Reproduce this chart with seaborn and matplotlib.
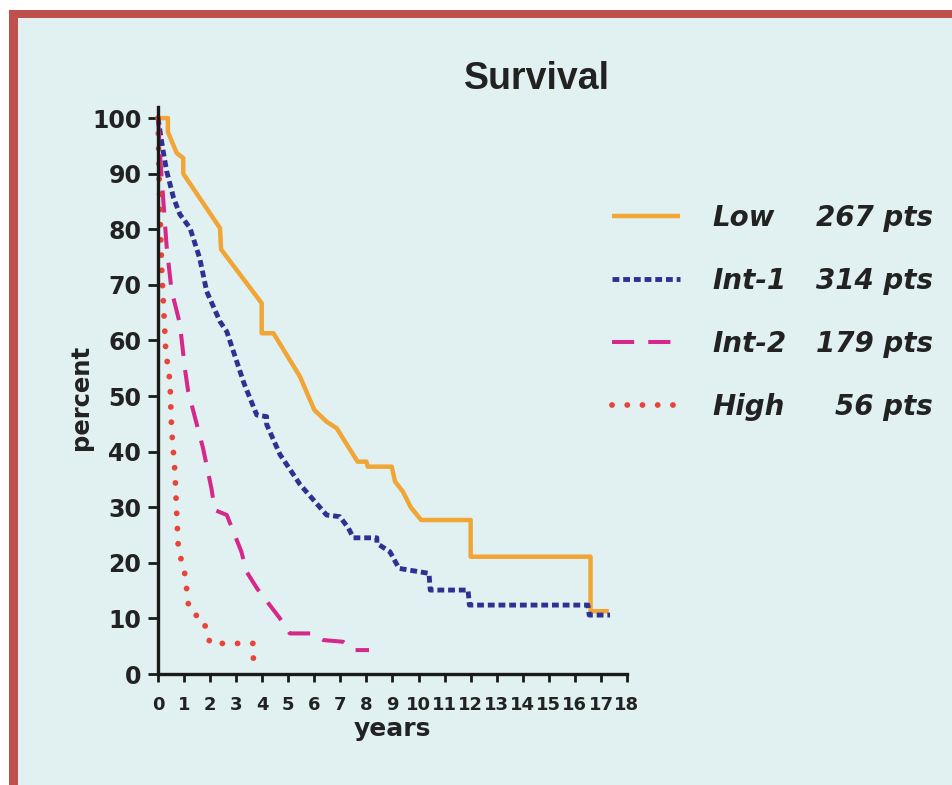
import matplotlib
matplotlib.use("Agg")
import matplotlib.pyplot as plt
from matplotlib.patches import Rectangle
import seaborn as sns
import pandas as pd

# ---------------- data ----------------
groups = ["Low", "Int-1", "Int-2", "High"]
counts = ["267 pts", "314 pts", "179 pts", "56 pts"]

low_years = [0, 0.38, 0.38, 0.72, 0.97, 0.97, 2.38, 2.42, 3.98, 3.98, 4.43, 5.45, 5.75,
             6.0, 6.47, 6.86, 7.66, 8.0, 8.05, 8.97, 9.1, 9.4, 9.7, 10.1, 12.0, 12.0,
             16.6, 16.6, 17.3]
low_pct = [100, 100, 97.5, 93.7, 92.8, 90, 80.2, 76.4, 66.7, 61.3, 61.3, 53.5, 50.2,
           47.5, 45.4, 44.2, 38.2, 38.2, 37.3, 37.3, 34.6, 32.8, 30, 27.7, 27.7, 21.1,
           21.1, 11.3, 11.3]

int1_years = [0, 0.2, 0.33, 0.6, 0.84, 1.23, 1.6, 1.87, 2.38, 2.64, 3.3, 3.79, 4.17, 4.17,
              4.68, 5.45, 6.47, 6.98, 7.3, 7.5, 8.4, 8.4, 8.9, 9.25, 10.4, 10.45, 11.9,
              11.95, 16.5, 16.55, 17.35]
int1_pct = [100, 94, 90.5, 85.6, 82.7, 80.2, 74.8, 68.8, 63.4, 61.6, 52.3, 46.6, 46.3, 44.9,
            39.5, 34.1, 28.6, 28.3, 26.3, 24.5, 24.5, 23.5, 22, 19, 18.1, 15.1, 15.1,
            12.4, 12.4, 10.6, 10.6]

int2_years = [0, 0.1, 0.33, 0.52, 0.84, 1.03, 1.16, 1.73, 2.05, 2.18, 2.64, 3.2, 3.4, 3.8,
              4.68, 5.06, 5.95, 6.35, 7.1, 7.5, 8.1]
int2_pct = [100, 92, 77, 69, 63, 55, 50.8, 40.6, 33.4, 29.5, 28.6, 22, 18.4, 15.4,
            10, 7.3, 7.3, 6.1, 5.8, 4.3, 4.3]

high_years = [0, 0.05, 0.15, 0.3, 0.46, 0.52, 0.65, 0.72, 0.78, 0.91, 1.04, 1.16, 1.3,
              1.73, 1.87, 2.0, 3.66, 3.66]
high_pct = [100, 88, 72, 58, 52.6, 44.2, 36.4, 28.6, 22.6, 20.2, 17.8, 12.7, 10.9,
            10, 7.6, 5.5, 5.5, 2.5]

x_ticks = list(range(0, 19))
y_ticks = list(range(0, 101, 10))
title = "Survival"
x_label = "years"
y_label = "percent"

# ---------------- style ----------------
sns.set_style("ticks")
plt.rcParams["font.family"] = ["DejaVu Sans"]

W, H = 953, 785
fig = plt.figure(figsize=(W / 100, H / 100), dpi=100)
fig.patch.set_facecolor("white")
fig.patches.append(Rectangle((9 / W, 0), 1, 1 - 10 / H, transform=fig.transFigure,
                             facecolor="#c0504d", edgecolor="none", zorder=-10))
fig.patches.append(Rectangle((18 / W, 0), 1, 1 - 18 / H, transform=fig.transFigure,
                             facecolor="#e1f1f1", edgecolor="none", zorder=-9))

ax = fig.add_axes([158 / W, (H - 674) / H, 469 / W, 567 / H])
ax.set_facecolor("none")

series = [
    (low_years, low_pct, "#f0a535", "-", 3.2, "butt"),
    (int1_years, int1_pct, "#2e3192", (0, (1.4, 0.8)), 3.5, "butt"),
    (int2_years, int2_pct, "#d6278a", (0, (5.5, 3.5)), 2.9, "butt"),
    (high_years, high_pct, "#e8443a", (0, (0.01, 2.6)), 4.2, "round"),
]
handles = []
for (xs, ys, col, ls, lw, cap), name in zip(series, groups):
    df = pd.DataFrame({"years": xs, "percent": ys})
    sns.lineplot(data=df, x="years", y="percent", ax=ax, color=col, lw=lw,
                 estimator=None, sort=False, label=name)
    ln = ax.lines[-1]
    ln.set_linestyle(ls)
    ln.set_dash_capstyle(cap)
    ln.set_solid_capstyle("butt")
    ln.set_clip_on(False)
    handles.append(ln)

ax.set_xlim(0, 18)
ax.set_ylim(0, 102)
ax.set_xticks(x_ticks)
ax.set_xticklabels([str(v) for v in x_ticks], fontsize=13, fontweight="bold", color="#222222")
ax.set_yticks(y_ticks)
ax.set_yticklabels([str(v) for v in y_ticks], fontsize=17, fontweight="bold", color="#222222")
ax.tick_params(axis="x", length=6, width=2, pad=10, color="#1a1a1a")
ax.tick_params(axis="y", length=7, width=2, pad=5, color="#1a1a1a")
for s in ["top", "right"]:
    ax.spines[s].set_visible(False)
for s in ["left", "bottom"]:
    ax.spines[s].set_linewidth(2.4)
    ax.spines[s].set_color("#1a1a1a")

ax.set_xlabel(x_label, fontsize=18, fontweight="bold", color="#222222", labelpad=2)
ax.set_ylabel(y_label, fontsize=17.5, fontweight="bold", color="#222222")
ax.yaxis.set_label_coords(-0.139, 0.4885)

fig.text(537 / W, 1 - 79 / H, title, ha="center", va="center",
         fontsize=27, fontweight="bold", family="Liberation Sans", color="#222222")

leg_font = dict(family="DejaVu Sans", weight="bold", style="oblique", size=20)
leg = ax.legend(handles, groups, loc="upper left",
                bbox_to_anchor=(612 / W, 1 - 204 / H), bbox_transform=fig.transFigure,
                frameon=False, borderpad=0, borderaxespad=0, handlelength=2.45,
                handletextpad=1.15, labelspacing=1.26, prop=leg_font)
for t in leg.get_texts():
    t.set_color("#222222")

fig.canvas.draw()
for t, cnt in zip(leg.get_texts(), counts):
    bb = t.get_window_extent()
    yc = (bb.y0 + bb.y1) / 2 / fig.bbox.height
    fig.text(933 / W, yc, cnt, ha="right", va="center", color="#222222",
             family="DejaVu Sans", weight="bold", style="oblique", size=20)

fig.savefig("out.png", dpi=100)
